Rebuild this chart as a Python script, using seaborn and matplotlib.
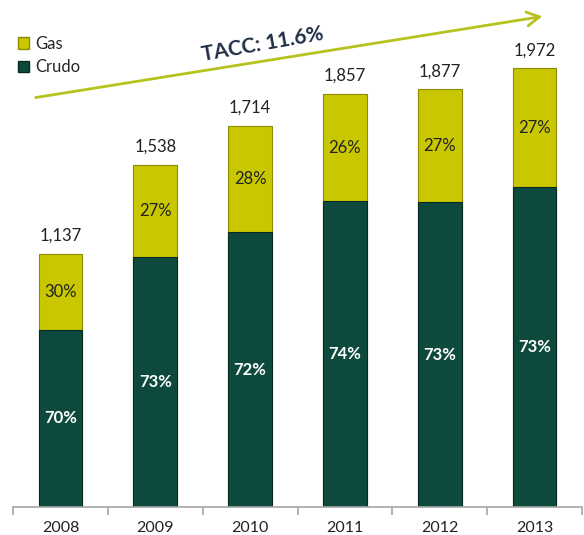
import matplotlib
matplotlib.use("Agg")
import matplotlib.pyplot as plt
import seaborn as sns
import pandas as pd
import numpy as np
from matplotlib.patches import Patch, FancyArrowPatch

years = ["2008", "2009", "2010", "2011", "2012", "2013"]
totals = [1137, 1538, 1714, 1857, 1877, 1972]
crudo_pct = [70, 73, 72, 74, 73, 73]
gas_pct = [30, 27, 28, 26, 27, 27]
growth_label = "TACC: 11.6%"

crudo_vals = [t * p / 100 for t, p in zip(totals, crudo_pct)]
df = pd.DataFrame({"year": years, "total": totals, "crudo": crudo_vals})

GAS = "#C9C800"
CRUDO = "#0D4A3D"

sns.set_theme(style="white")
plt.rcParams["font.family"] = ["Lato", "DejaVu Sans"]

fig = plt.figure(figsize=(5.84, 5.35), dpi=100)
ax = fig.add_axes([13 / 584, 28 / 535, 569 / 584, 505 / 535])

sns.barplot(data=df, x="year", y="total", color=GAS, width=0.46, ax=ax,
            edgecolor="#8C8A00", linewidth=0.8, saturation=1)
sns.barplot(data=df, x="year", y="crudo", color=CRUDO, width=0.46, ax=ax,
            edgecolor="#062A22", linewidth=0.8, saturation=1)

ax.set_ylim(0, 2270)
ax.set_xlim(-0.5, 5.5)
ax.set_xlabel("")
ax.set_ylabel("")
ax.set_yticks([])
for s in ["top", "right", "left"]:
    ax.spines[s].set_visible(False)
ax.spines["bottom"].set_color("#A6A6A6")
ax.spines["bottom"].set_linewidth(1.2)
ax.set_xticks(np.arange(-0.5, 6, 1), minor=True)
ax.tick_params(axis="x", which="minor", length=6, color="#A6A6A6", width=1.2, direction="out", bottom=True)
ax.tick_params(axis="x", which="major", length=0, labelsize=11.5, pad=10, labelcolor="#222222")

for i, (t, c, cp, gp) in enumerate(zip(totals, crudo_vals, crudo_pct, gas_pct)):
    ax.text(i, t + 45, f"{t:,}", ha="center", va="bottom", fontsize=12, color="#222222")
    ax.text(i, c + (t - c) / 2, f"{gp}%", ha="center", va="center", fontsize=12, color="#222222")
    ax.text(i, c / 2, f"{cp}%", ha="center", va="center", fontsize=12, color="white", fontweight="bold")

handles = [Patch(facecolor=GAS, edgecolor="#8C8A00", label="Gas"),
           Patch(facecolor=CRUDO, edgecolor="#062A22", label="Crudo")]
fig.legend(handles=handles, loc="upper left", bbox_to_anchor=(11 / 584, 1 - 29 / 535),
           frameon=False, fontsize=12, handlelength=0.7, handleheight=0.7,
           handletextpad=0.35, labelspacing=0.45, borderaxespad=0)

fig.patches.append(FancyArrowPatch(
    (33 / 584, 1 - 98 / 535), (545 / 584, 1 - 16 / 535), transform=fig.transFigure,
    arrowstyle="->,head_length=9,head_width=5", color="#B7C21C", linewidth=2.0,
    mutation_scale=1, capstyle="round", joinstyle="round"))
fig.text(263 / 584, 1 - 44 / 535, growth_label, ha="center", va="center",
         rotation=10, fontsize=15, fontweight="bold", color="#1F2D45")

fig.savefig("out.png", dpi=100)
